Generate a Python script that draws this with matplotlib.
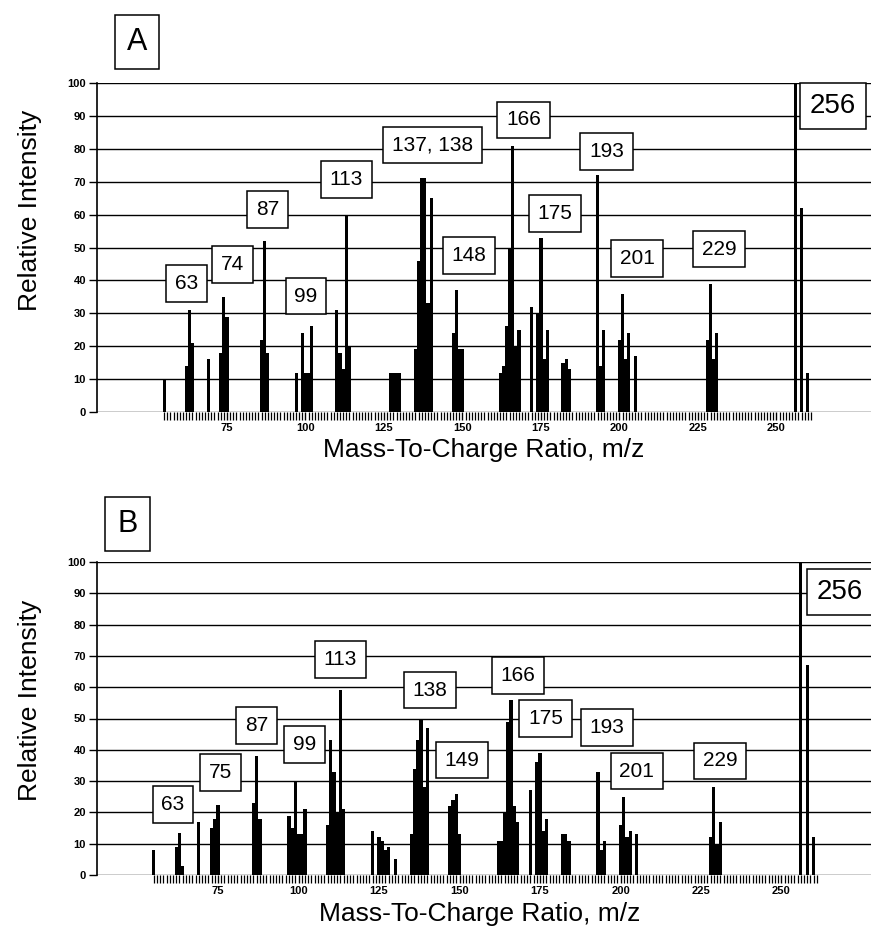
import numpy as np
import matplotlib
matplotlib.use('Agg')
import matplotlib.pyplot as plt
from matplotlib.ticker import FixedLocator

plt.rcParams['font.family'] = ['Liberation Sans', 'DejaVu Sans']

# spectre A : m/z et intensites relatives
mz_a = [55, 62, 63, 64, 69, 73, 74, 75, 86, 87, 88, 97, 99, 100, 101, 102,
        110, 111, 112, 113, 114, 127, 128, 129, 130, 135, 136, 137, 138, 139, 140,
        147, 148, 149, 150, 162, 163, 164, 165, 166, 167, 168,
        172, 174, 175, 176, 177, 182, 183, 184, 193, 194, 195,
        200, 201, 202, 203, 205, 228, 229, 230, 231, 256, 258, 260]
int_a = [10, 14, 31, 21, 16, 18, 35, 29, 22, 52, 18, 12, 24, 12, 12, 26,
         31, 18, 13, 60, 20, 12, 12, 12, 12, 19, 46, 71, 71, 33, 65,
         24, 37, 19, 19, 12, 14, 26, 50, 81, 20, 25,
         32, 30, 53, 16, 25, 15, 16, 13, 72, 14, 25,
         22, 36, 16, 24, 17, 22, 39, 16, 24, 100, 62, 12]

# spectre B
mz_b = [55, 62, 63, 64, 69, 73, 74, 75, 86, 87, 88, 97, 98, 99, 100, 101, 102,
        109, 110, 111, 112, 113, 114, 123, 125, 126, 127, 128, 130,
        135, 136, 137, 138, 139, 140, 147, 148, 149, 150,
        162, 163, 164, 165, 166, 167, 168,
        172, 174, 175, 176, 177, 182, 183, 184, 193, 194, 195,
        200, 201, 202, 203, 205, 228, 229, 230, 231, 256, 258, 260]
int_b = [8, 9, 13.5, 3, 17, 15, 18, 22.5, 23, 38, 18, 19, 15, 30, 13, 13, 21,
         16, 43, 33, 20, 59, 21, 14, 12, 11, 8, 9, 5,
         13, 34, 43, 50, 28, 47, 22, 24, 26, 13,
         11, 11, 20, 49, 56, 22, 17,
         27, 36, 39, 14, 18, 13, 13, 11, 33, 8, 11,
         16, 25, 12, 14, 13, 12, 28, 10, 17, 100, 67, 12]

# etiquettes des pics (texte, m/z, intensite du centre de la boite)
lab_a = ['63', '74', '87', '99', '113', '137, 138', '148', '166', '175', '193', '201', '229', '256']
lab_a_x = [62.2, 76.8, 88, 100.2, 113, 140.4, 152.1, 169.4, 179.5, 195.9, 205.6, 231.7, 268]
lab_a_y = [39.1, 44.8, 61.6, 35.2, 70.6, 81.2, 47.5, 88.8, 60.4, 79.2, 46.6, 49.5, 93]

lab_b = ['63', '75', '87', '99', '113', '138', '149', '166', '175', '193', '201', '229', '256']
lab_b_x = [61, 75.8, 87, 101.8, 112.9, 140.8, 150.7, 168.1, 176.7, 195.8, 205.1, 231, 268]
lab_b_y = [22.6, 32.7, 47.8, 41.7, 68.8, 59.1, 36.7, 63.7, 50.0, 47.2, 33.2, 36.5, 90.4]

W, H = 871, 932
fig = plt.figure(figsize=(W / 100, H / 100), dpi=100)


def spectre(ax, mz, inten, labs, lx, ly, xlim):
    ax.set_xlim(xlim)
    ax.set_ylim(0, 100)
    for v in range(0, 101, 10):
        ax.axhline(v, color='black', lw=1.0, zorder=1)
    ax.bar(mz, inten, width=1.0, color='black', zorder=2, linewidth=0)
    for s in ['top', 'right', 'bottom']:
        ax.spines[s].set_visible(False)
    ax.spines['left'].set_linewidth(1.2)
    ax.set_yticks(range(0, 101, 10))
    ax.set_xticks([75, 100, 125, 150, 175, 200, 225, 250])
    ax.xaxis.set_minor_locator(FixedLocator(np.arange(55, 262)))
    ax.tick_params(axis='both', which='major', direction='out', length=6, width=1,
                   labelsize=8, pad=2)
    ax.tick_params(axis='x', which='minor', direction='out', length=6, width=0.9)
    for t in ax.get_xticklabels() + ax.get_yticklabels():
        t.set_fontweight('bold')
    for i in range(len(labs)):
        big = labs[i] == '256'
        ax.text(lx[i], ly[i], labs[i], ha='center', va='center',
                fontsize=20 if big else 15, zorder=5, clip_on=False,
                bbox=dict(boxstyle='square,pad=0.35' if big else 'square,pad=0.42',
                          fc='white', ec='black', lw=1.1))


axA = fig.add_axes([97 / W, 1 - 412 / H, (W - 97) / W, 329 / H])
spectre(axA, mz_a, int_a, lab_a, lab_a_x, lab_a_y, (33.6, 280.1))

axB = fig.add_axes([97 / W, 1 - 875 / H, (W - 97) / W, 313 / H])
spectre(axB, mz_b, int_b, lab_b, lab_b_x, lab_b_y, (37.4, 277.8))

# titres des axes
fig.text(30 / W, 1 - 210 / H, 'Relative Intensity', rotation=90, ha='center', va='center', fontsize=19)
fig.text(30 / W, 1 - 700 / H, 'Relative Intensity', rotation=90, ha='center', va='center', fontsize=19)
fig.text(484 / W, 1 - 450 / H, 'Mass-To-Charge Ratio, m/z', ha='center', va='center', fontsize=19)
fig.text(480 / W, 1 - 914 / H, 'Mass-To-Charge Ratio, m/z', ha='center', va='center', fontsize=19)

# lettres des panneaux
for lettre, px, py in [('A', 137, 42), ('B', 127.5, 524)]:
    fig.text(px / W, 1 - py / H, lettre, ha='center', va='center', fontsize=22,
             bbox=dict(boxstyle='square,pad=0.4', fc='white', ec='black', lw=1.1))

fig.savefig('out.png', dpi=100)
